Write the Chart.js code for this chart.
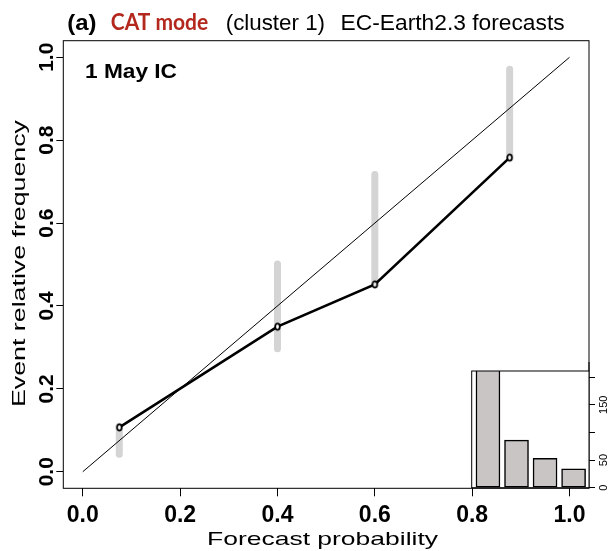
<!DOCTYPE html>
<html>
<head>
<meta charset="utf-8">
<script src="https://cdn.jsdelivr.net/npm/chart.js@4"></script>
<style>
  html, body { margin: 0; padding: 0; background: #fff; }
  #wrap { position: relative; width: 616px; height: 551px; }
  #wrap canvas { position: absolute; left: 0; top: 0; }
</style>
</head>
<body>
<div id="wrap">
  <canvas id="mainChart" width="616" height="551"></canvas>
  <canvas id="histChart" width="616" height="551"></canvas>
</div>
<script>
// reliability curve
const probBins = [0.075, 0.4, 0.6, 0.877];
const obsFreq = [0.107, 0.35, 0.452, 0.758];
const ciLow = [0.042, 0.297, 0.452, 0.758];
const ciHigh = [0.11, 0.501, 0.717, 0.971];
const diagX = [0, 1];
const axisTicks = [0, 0.2, 0.4, 0.6, 0.8, 1.0];

// inset histogram (forecast counts per bin)
const histBins = [1, 2, 3, 4];
const histCounts = [240, 86, 53, 34];
const histTicks = [0, 50, 100, 150, 200];
const histTickLabels = ['0', '50', '', '150', ''];

const SANS = '"Liberation Sans", Arial, sans-serif';

// draw text squeezed/stretched to a measured width, like the source figure
function fitText(ctx, text, x, y, font, width, align, color) {
  ctx.save();
  ctx.font = font;
  ctx.fillStyle = color || '#000';
  ctx.textBaseline = 'alphabetic';
  ctx.textAlign = 'left';
  const w = ctx.measureText(text).width;
  const k = width ? width / w : 1;
  const x0 = align === 'center' ? x - (w * k) / 2 : x;
  ctx.translate(x0, y);
  ctx.scale(k, 1);
  ctx.fillText(text, 0, 0);
  ctx.restore();
}

// pointStyle: small upright open ellipse
const marker = document.createElement('canvas');
marker.width = 9; marker.height = 11;
(() => {
  const c = marker.getContext('2d');
  c.beginPath();
  c.ellipse(4.5, 5.5, 2.3, 3.2, 0, 0, Math.PI * 2);
  c.fillStyle = '#fff';
  c.fill();
  c.lineWidth = 1.8;
  c.strokeStyle = '#000';
  c.stroke();
})();

const ciData = [];
probBins.forEach((p, i) => {
  ciData.push({x: p, y: ciLow[i]}, {x: p, y: ciHigh[i]}, {x: p, y: null});
});

const mainDecor = {
  id: 'mainDecor',
  beforeDraw(chart) {
    const ctx = chart.ctx;
    ctx.save();
    ctx.fillStyle = '#fff';
    ctx.fillRect(0, 0, chart.width, chart.height);
    ctx.restore();
  },
  afterDraw(chart) {
    const {ctx, chartArea: a, scales} = chart;
    ctx.save();
    ctx.strokeStyle = '#000';
    ctx.lineWidth = 1;
    ctx.strokeRect(a.left, a.top, a.right - a.left, a.bottom - a.top);

    // y tick labels, rotated like R's las=0
    ctx.font = 'bold 21px ' + SANS;
    ctx.fillStyle = '#000';
    ctx.textAlign = 'center';
    ctx.textBaseline = 'alphabetic';
    axisTicks.forEach(v => {
      const py = scales.y.getPixelForValue(v);
      ctx.save();
      ctx.translate(52.5, py);
      ctx.rotate(-Math.PI / 2);
      ctx.fillText(v.toFixed(1), 0, 0);
      ctx.restore();
    });
    ctx.restore();

    // axis titles
    fitText(ctx, 'Forecast probability', 322.5, 544.5, '18.5px ' + SANS, 231, 'center');
    ctx.save();
    ctx.translate(25, 263.5);
    ctx.rotate(-Math.PI / 2);
    fitText(ctx, 'Event relative frequency', 0, 0, '18.5px ' + SANS, 287, 'center');
    ctx.restore();

    // title
    fitText(ctx, '(a)', 67.2, 30, 'bold 22px ' + SANS, 29.2);
    fitText(ctx, 'CAT mode', 110.8, 30, 'bold 22px Lato, "Open Sans", sans-serif', 97.4, 'left', '#b3271d');
    fitText(ctx, '(cluster 1)', 225.7, 30, '22px ' + SANS, 99.3);
    fitText(ctx, 'EC-Earth2.3 forecasts', 340.6, 30, '22px ' + SANS, 224);

    fitText(ctx, '1 May IC', 85, 78, 'bold 20px ' + SANS, 92);
  }
};

new Chart(document.getElementById('mainChart'), {
  type: 'scatter',
  data: {
    datasets: [
      {
        label: 'diagonal',
        data: diagX.map(v => ({x: v, y: v})),
        showLine: true,
        borderColor: '#000',
        borderWidth: 1,
        pointRadius: 0,
        order: 2
      },
      {
        label: 'range',
        data: ciData,
        showLine: true,
        spanGaps: false,
        borderColor: '#d4d4d4',
        borderWidth: 7,
        borderCapStyle: 'round',
        pointRadius: 0,
        order: 3
      },
      {
        label: 'reliability',
        data: probBins.map((p, i) => ({x: p, y: obsFreq[i]})),
        showLine: true,
        borderColor: '#000',
        borderWidth: 2.6,
        pointStyle: marker,
        pointRadius: 4,
        order: 1
      }
    ]
  },
  options: {
    responsive: false,
    animation: false,
    devicePixelRatio: 1,
    layout: {padding: {top: 40.7, right: 27, left: 0, bottom: 0}},
    plugins: {legend: {display: false}, tooltip: {enabled: false}},
    scales: {
      x: {
        type: 'linear',
        min: -0.04,
        max: 1.04,
        afterBuildTicks: s => { s.ticks = axisTicks.map(v => ({value: v})); },
        afterFit: s => { s.height = 62.7; },
        ticks: {
          callback: v => Number(v).toFixed(1),
          font: {family: SANS, size: 23, weight: 'bold'},
          color: '#000',
          padding: 6,
          maxRotation: 0,
          autoSkip: false
        },
        grid: {drawOnChartArea: false, tickLength: 8, color: '#000', tickColor: '#000', lineWidth: 1},
        border: {display: false}
      },
      y: {
        type: 'linear',
        min: -0.04,
        max: 1.04,
        afterBuildTicks: s => { s.ticks = axisTicks.map(v => ({value: v})); },
        afterFit: s => { s.width = 63.3; },
        ticks: {display: false},
        grid: {drawOnChartArea: false, tickLength: 7, color: '#000', tickColor: '#000', lineWidth: 1},
        border: {display: false}
      }
    }
  },
  plugins: [mainDecor]
});

const histDecor = {
  id: 'histDecor',
  beforeDatasetsDraw(chart) {
    const {ctx, chartArea: a} = chart;
    ctx.save();
    ctx.fillStyle = '#fff';
    ctx.fillRect(a.left, a.top, a.right - a.left, a.bottom - a.top);
    ctx.restore();
  },
  afterDraw(chart) {
    const {ctx, chartArea: a} = chart;
    ctx.save();
    ctx.strokeStyle = '#000';
    ctx.lineWidth = 1;
    ctx.strokeRect(a.left, a.top, a.right - a.left, a.bottom - a.top);
    ctx.beginPath();
    ctx.moveTo(a.right, a.top);
    ctx.lineTo(a.right, a.top - 9);
    ctx.stroke();
    ctx.restore();
  }
};

new Chart(document.getElementById('histChart'), {
  type: 'bar',
  data: {
    datasets: [{
      data: histBins.map((b, i) => ({x: b, y: histCounts[i]})),
      backgroundColor: '#c9c5c5',
      borderColor: '#000',
      borderWidth: 1.5,
      borderSkipped: false,
      barThickness: 24,
      clip: 0
    }]
  },
  options: {
    responsive: false,
    animation: false,
    devicePixelRatio: 1,
    layout: {padding: {top: 371, left: 471.7, bottom: 63.3, right: 0}},
    plugins: {legend: {display: false}, tooltip: {enabled: false}},
    scales: {
      x: {type: 'linear', min: 0.43, max: 4.54, offset: false, display: false},
      y: {
        position: 'right',
        min: 0,
        max: 211,
        afterBuildTicks: s => { s.ticks = histTicks.map(v => ({value: v})); },
        afterFit: s => { s.width = 27; },
        ticks: {
          callback: (v, i) => histTickLabels[i],
          font: {family: SANS, size: 11},
          color: '#000',
          minRotation: 90,
          maxRotation: 90,
          crossAlign: 'center',
          padding: 0,
          autoSkip: false
        },
        grid: {drawOnChartArea: false, tickLength: 6, color: '#000', tickColor: '#000', lineWidth: 1},
        border: {display: false}
      }
    }
  },
  plugins: [histDecor]
});
</script>
</body>
</html>
